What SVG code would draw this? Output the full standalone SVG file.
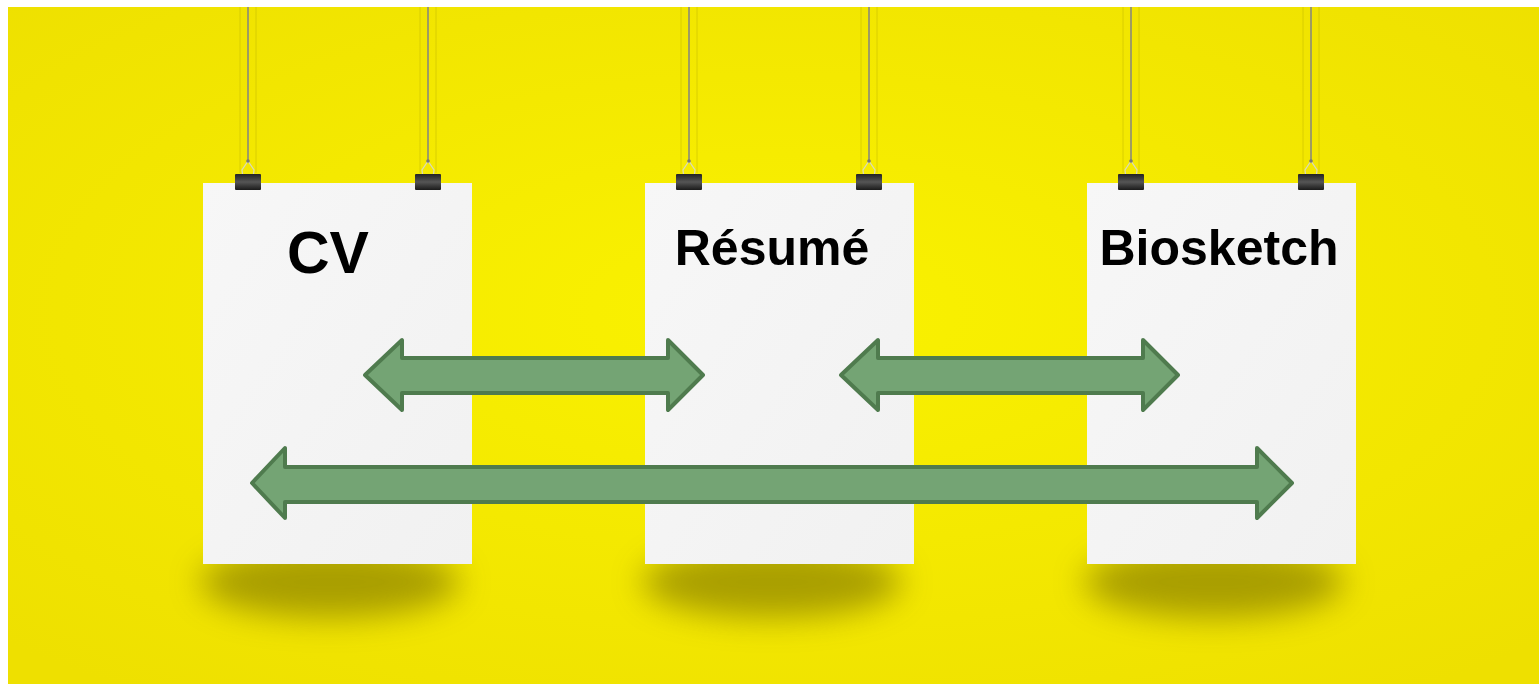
<svg xmlns="http://www.w3.org/2000/svg" width="1539" height="684" viewBox="0 0 1539 684">
<style>
.paper{fill:url(#paperG)}
.lbl{font-family:"Liberation Sans",Arial,sans-serif;font-weight:bold;fill:#000;text-anchor:middle}
.str{stroke:#8a8a7a;stroke-width:1.6}
.strs{stroke:#c8be00;stroke-width:1;opacity:0.6}
.clip{fill:url(#clipG)}
.wire{fill:none;stroke:#d8d8c0;stroke-width:1.2}
.arr{fill:#74a474;stroke:#4f7b4e;stroke-width:4;stroke-linejoin:round}
.shadow{fill:#8a8000;opacity:0.7;filter:url(#blur)}
</style>
<defs>
<radialGradient id="bgG" cx="0.5" cy="0.45" r="0.7">
<stop offset="0" stop-color="#faf200"/>
<stop offset="1" stop-color="#eee000"/>
</radialGradient>
<linearGradient id="paperG" x1="0" y1="0" x2="1" y2="1">
<stop offset="0" stop-color="#f7f7f7"/>
<stop offset="1" stop-color="#f1f1f1"/>
</linearGradient>
<linearGradient id="clipG" x1="0" y1="0" x2="0" y2="1">
<stop offset="0" stop-color="#222"/>
<stop offset="0.5" stop-color="#555"/>
<stop offset="1" stop-color="#1a1a1a"/>
</linearGradient>
<filter id="blur" x="-30%" y="-60%" width="160%" height="220%">
<feGaussianBlur stdDeviation="16"/>
</filter>
</defs>
<rect x="0" y="0" width="1539" height="684" fill="#ffffff"/>
<rect x="8" y="7" width="1531" height="677" fill="url(#bgG)"/>

<g id="shadows">
<ellipse class="shadow" cx="330" cy="582" rx="130" ry="36"/>
<ellipse class="shadow" cx="772" cy="582" rx="130" ry="36"/>
<ellipse class="shadow" cx="1214" cy="582" rx="130" ry="36"/>
</g>

<g id="node-cv">
<line class="strs" x1="240" y1="7" x2="240" y2="173"/>
<line class="strs" x1="256" y1="7" x2="256" y2="173"/>
<line class="strs" x1="420" y1="7" x2="420" y2="173"/>
<line class="strs" x1="436" y1="7" x2="436" y2="173"/>
<line class="str" x1="248" y1="7" x2="248" y2="161"/>
<line class="str" x1="428" y1="7" x2="428" y2="161"/>
<rect class="paper" x="203" y="183" width="269" height="381"/>
<path class="wire" d="M248 161 L242 170 L244 186 M248 161 L254 170 L252 186"/>
<rect class="clip" x="235" y="174" width="26" height="16" rx="1"/>
<path class="wire" d="M428 161 L422 170 L424 186 M428 161 L434 170 L432 186"/>
<rect class="clip" x="415" y="174" width="26" height="16" rx="1"/>
<circle cx="248" cy="161" r="1.8" fill="#777"/>
<circle cx="428" cy="161" r="1.8" fill="#777"/>
<text class="lbl" x="328" y="273" font-size="59">CV</text>
</g>

<g id="node-resume">
<line class="strs" x1="681" y1="7" x2="681" y2="173"/>
<line class="strs" x1="697" y1="7" x2="697" y2="173"/>
<line class="strs" x1="861" y1="7" x2="861" y2="173"/>
<line class="strs" x1="877" y1="7" x2="877" y2="173"/>
<line class="str" x1="689" y1="7" x2="689" y2="161"/>
<line class="str" x1="869" y1="7" x2="869" y2="161"/>
<rect class="paper" x="645" y="183" width="269" height="381"/>
<path class="wire" d="M689 161 L683 170 L685 186 M689 161 L695 170 L693 186"/>
<rect class="clip" x="676" y="174" width="26" height="16" rx="1"/>
<path class="wire" d="M869 161 L863 170 L865 186 M869 161 L875 170 L873 186"/>
<rect class="clip" x="856" y="174" width="26" height="16" rx="1"/>
<circle cx="689" cy="161" r="1.8" fill="#777"/>
<circle cx="869" cy="161" r="1.8" fill="#777"/>
<text class="lbl" x="772" y="265" font-size="50">Résumé</text>
</g>

<g id="node-biosketch">
<line class="strs" x1="1123" y1="7" x2="1123" y2="173"/>
<line class="strs" x1="1139" y1="7" x2="1139" y2="173"/>
<line class="strs" x1="1303" y1="7" x2="1303" y2="173"/>
<line class="strs" x1="1319" y1="7" x2="1319" y2="173"/>
<line class="str" x1="1131" y1="7" x2="1131" y2="161"/>
<line class="str" x1="1311" y1="7" x2="1311" y2="161"/>
<rect class="paper" x="1087" y="183" width="269" height="381"/>
<path class="wire" d="M1131 161 L1125 170 L1127 186 M1131 161 L1137 170 L1135 186"/>
<rect class="clip" x="1118" y="174" width="26" height="16" rx="1"/>
<path class="wire" d="M1311 161 L1305 170 L1307 186 M1311 161 L1317 170 L1315 186"/>
<rect class="clip" x="1298" y="174" width="26" height="16" rx="1"/>
<circle cx="1131" cy="161" r="1.8" fill="#777"/>
<circle cx="1311" cy="161" r="1.8" fill="#777"/>
<text class="lbl" x="1219" y="265" font-size="50">Biosketch</text>
</g>

<g id="connectors">
<polygon class="arr" points="365,375 402,340 402,358 668,358 668,340 703,375 668,410 668,393 402,393 402,410"/>
<polygon class="arr" points="841,375 878,340 878,358 1143,358 1143,340 1178,375 1143,410 1143,393 878,393 878,410"/>
<polygon class="arr" points="252,483 285,448 285,467 1257,467 1257,448 1292,483 1257,518 1257,502 285,502 285,518"/>
</g>
</svg>
